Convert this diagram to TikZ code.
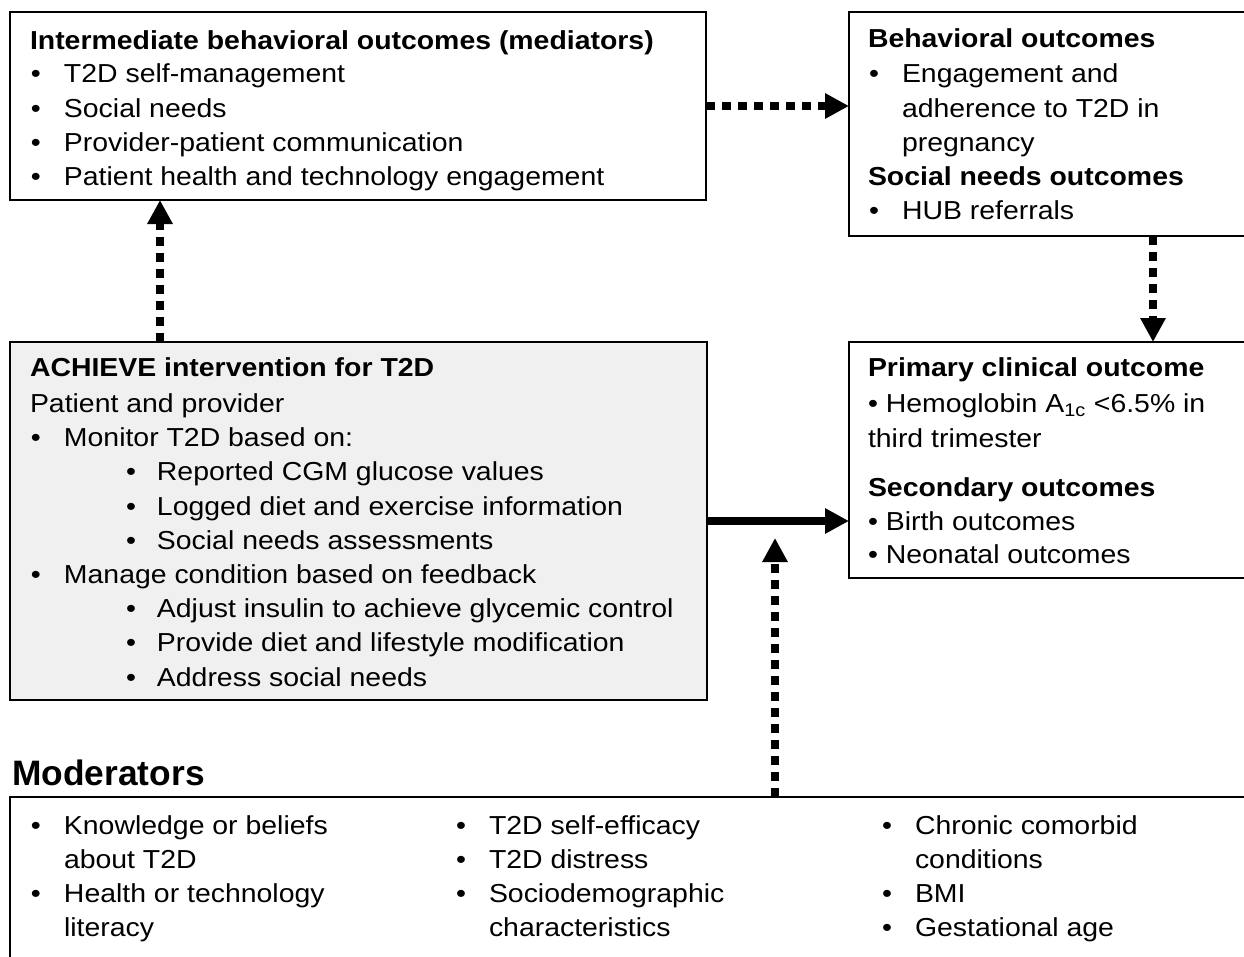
\documentclass[tikz,border=0pt]{standalone}
\usepackage{fontspec}
\setmainfont{Liberation Sans}[FakeStretch=1.093]
\newfontfamily\modfont{Liberation Sans}
\usetikzlibrary{arrows.meta}
\newcommand\bl[1]{\makebox[25.5pt][l]{\hspace{0.75pt}•}#1}
\newcommand\sbl[1]{\makebox[95.25pt][l]{\hspace{72pt}•}#1}
\newcommand\ind[1]{\hspace*{25.5pt}#1}
\begin{document}
\begin{tikzpicture}[x=0.75pt,y=-0.75pt,
  box/.style={draw, line width=2pt, anchor=north west, inner sep=0pt, outer sep=0pt},
  txt/.style={anchor=base west, inner sep=0pt, outer sep=0pt, font=\fontsize{19.5}{23}\selectfont},
  txtb/.style={txt, font=\fontsize{19.5}{23}\selectfont\bfseries},
  dotarrow/.style={line width=5.5pt, dash pattern=on 6.5pt off 5.5pt, -{Triangle[length=18pt,width=18pt]}},
  solidarrow/.style={line width=5.5pt, -{Triangle[length=18pt,width=18pt]}}]
\useasboundingbox[fill=white] (0,0) rectangle (1244,956);

% boxes
\node[box, minimum width=522pt, minimum height=141pt] (med) at (10,12) {};
\node[box, minimum width=337.5pt, minimum height=168pt] (beh) at (849,12) {};
\node[box, fill=gray!12, minimum width=522.75pt, minimum height=268.5pt] (ach) at (10,342) {};
\node[box, minimum width=337.5pt, minimum height=177pt] (prim) at (849,342) {};
\node[box, minimum width=975pt, minimum height=187.5pt] (mod) at (10,797) {};

% mediators text
\node[txtb] (m1) at (30,50) {Intermediate behavioral outcomes (mediators)};
\node[txt] (m2) at (30,83) {\bl{T2D self-management}};
\node[txt] (m3) at (30,117) {\bl{Social needs}};
\node[txt] (m4) at (30,151) {\bl{Provider-patient communication}};
\node[txt] (m5) at (30,185) {\bl{Patient health and technology engagement}};

% behavioral outcomes text
\node[txtb] (b1) at (868,48) {Behavioral outcomes};
\node[txt] (b2) at (868,83) {\bl{Engagement and}};
\node[txt] (b3) at (868,117) {\ind{adherence to T2D in}};
\node[txt] (b4) at (868,151) {\ind{pregnancy}};
\node[txtb] (b5) at (868,185) {Social needs outcomes};
\node[txt] (b6) at (868,219) {\bl{HUB referrals}};

% ACHIEVE text
\node[txtb] (a1) at (30,376) {ACHIEVE intervention for T2D};
\node[txt] (a2) at (30,412) {Patient and provider};
\node[txt] (a3) at (30,446) {\bl{Monitor T2D based on:}};
\node[txt] (a4) at (30,480) {\sbl{Reported CGM glucose values}};
\node[txt] (a5) at (30,515) {\sbl{Logged diet and exercise information}};
\node[txt] (a6) at (30,549) {\sbl{Social needs assessments}};
\node[txt] (a7) at (30,583) {\bl{Manage condition based on feedback}};
\node[txt] (a8) at (30,617) {\sbl{Adjust insulin to achieve glycemic control}};
\node[txt] (a9) at (30,651) {\sbl{Provide diet and lifestyle modification}};
\node[txt] (a10) at (30,686) {\sbl{Address social needs}};

% primary outcome text
\node[txtb] (p1) at (868,376) {Primary clinical outcome};
\node[txt] (p2) at (868,412) {• Hemoglobin A\textsubscript{1c} <6.5\% in};
\node[txt] (p3) at (868,447) {third trimester};
\node[txtb] (p4) at (868,496) {Secondary outcomes};
\node[txt] (p5) at (868,530) {• Birth outcomes};
\node[txt] (p6) at (868,563) {• Neonatal outcomes};

% moderators
\node[anchor=base west, inner sep=0pt, font=\modfont\fontsize{26.5}{30}\selectfont\bfseries] (modtitle) at (12,785) {Moderators};
\node[txt] (c1) at (30,834) {\bl{Knowledge or beliefs}};
\node[txt] (c2) at (30,868) {\ind{about T2D}};
\node[txt] (c3) at (30,902) {\bl{Health or technology}};
\node[txt] (c4) at (30,936) {\ind{literacy}};
\node[txt] (c5) at (455,834) {\bl{T2D self-efficacy}};
\node[txt] (c6) at (455,868) {\bl{T2D distress}};
\node[txt] (c7) at (455,902) {\bl{Sociodemographic}};
\node[txt] (c8) at (455,936) {\ind{characteristics}};
\node[txt] (c9) at (881,834) {\bl{Chronic comorbid}};
\node[txt] (c10) at (881,868) {\ind{conditions}};
\node[txt] (c11) at (881,902) {\bl{BMI}};
\node[txt] (c12) at (881,936) {\bl{Gestational age}};

% connectors
\draw[dotarrow] (med.east) -- (med.east -| beh.west);
\draw[dotarrow] ([xshift=112.5pt]ach.north west) -- ([xshift=112.5pt]ach.north west |- med.south);
\draw[dotarrow] ([xshift=228pt]beh.south west) -- ([xshift=228pt]beh.south west |- prim.north);
\draw[solidarrow] ([yshift=-134.25pt]ach.north east) -- ([yshift=-134.25pt]ach.north east -| prim.west);
\coordinate (modtip) at (775,538);
\draw[dotarrow] (mod.north west -| modtip) -- (modtip);
\end{tikzpicture}
\end{document}
